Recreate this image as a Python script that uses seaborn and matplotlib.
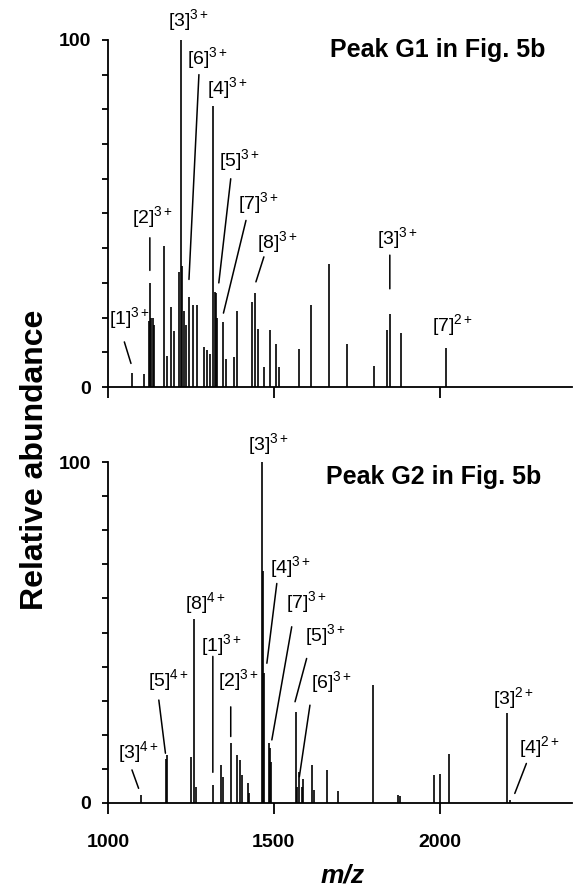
import matplotlib
matplotlib.use("Agg")
import pandas as pd
import seaborn as sns
import matplotlib.pyplot as plt

# peak lists (m/z, relative abundance)
g1_mz = [1071, 1108, 1122, 1126, 1130, 1134, 1138, 1170, 1178, 1190, 1200,
         1215, 1220, 1224, 1229, 1235, 1244, 1255, 1267, 1289, 1298, 1307,
         1318, 1322, 1326, 1330, 1348, 1355, 1379, 1389, 1433, 1443, 1451,
         1469, 1489, 1506, 1515, 1576, 1612, 1665, 1722, 1802, 1840, 1850,
         1883, 2018]
g1_int = [4, 3.7, 19, 30, 20, 20, 18, 40.5, 8.8, 23, 16,
          33, 100, 35, 22, 18, 26, 23.5, 23.5, 11.5, 10.6, 9.6,
          81, 27.5, 27, 20, 18.7, 8.2, 8.6, 22, 24.5, 27, 16.8,
          5.8, 16.3, 12.5, 5.8, 11, 23.5, 35.5, 12.5, 6.2, 16.3, 21,
          15.7, 11.2]

g2_mz = [1100, 1175, 1178, 1251, 1258, 1265, 1318, 1340, 1348, 1370, 1388,
         1397, 1404, 1421, 1426, 1464, 1466, 1469, 1484, 1487, 1490, 1566,
         1570, 1577, 1584, 1589, 1614, 1621, 1660, 1695, 1800, 1876, 1880,
         1984, 2001, 2029, 2204, 2212]
g2_int = [2.3, 13, 14, 13.6, 54, 4.8, 5.3, 11.1, 7.7, 17.5, 14,
          12.6, 8.2, 5.8, 2.8, 100, 68, 38, 17.5, 16, 12, 26.8,
          4.8, 9.2, 4.8, 6.9, 11.1, 3.8, 9.7, 3.6, 34.6, 2.3, 2,
          8.2, 8.5, 14.3, 26.3, 1]

titles = ["Peak G1 in Fig. 5b", "Peak G2 in Fig. 5b"]
x_ticks = [1000, 1500, 2000]
y_ticks = [0, 100]
y_minor = [10, 20, 30, 40, 50, 60, 70, 80, 90]

# ion labels: text, label position, leader line (start, end) or None
g1_labels = [
    ("[3]$^{3+}$", (1244, 105.8), None),
    ("[6]$^{3+}$", (1300, 94.8), ((1274, 90), (1244, 31))),
    ("[4]$^{3+}$", (1360, 86), None),
    ("[5]$^{3+}$", (1395, 65.4), ((1370, 60), (1334, 30))),
    ("[7]$^{3+}$", (1455, 53), ((1416, 48), (1348, 21.3))),
    ("[8]$^{3+}$", (1511, 41.9), ((1470, 37.5), (1446, 30.3))),
    ("[2]$^{3+}$", (1135, 49), ((1126, 43), (1126, 33.6))),
    ("[1]$^{3+}$", (1064, 19.8), ((1049, 13), (1069, 6.8))),
    ("[3]$^{3+}$", (1872, 42.8), ((1850, 38), (1850, 28.3))),
    ("[7]$^{2+}$", (2038, 17.9), None),
]
g2_labels = [
    ("[3]$^{3+}$", (1484, 105.4), None),
    ("[4]$^{3+}$", (1549, 69.3), ((1509, 64.4), (1479, 41))),
    ("[7]$^{3+}$", (1599, 59), ((1554, 51.7), (1494, 18.5))),
    ("[8]$^{4+}$", (1293, 58.6), None),
    ("[1]$^{3+}$", (1343, 46.3), ((1316, 43), (1316, 9))),
    ("[5]$^{4+}$", (1183, 36), ((1153, 30.2), (1173, 14.6))),
    ("[2]$^{3+}$", (1394, 36), ((1370, 28.2), (1370, 19.5))),
    ("[3]$^{4+}$", (1092, 15), ((1072, 9.7), (1092, 4.3))),
    ("[5]$^{3+}$", (1655, 49.3), ((1599, 42.4), (1564, 29.7))),
    ("[6]$^{3+}$", (1675, 35.6), ((1609, 28.7), (1577, 7.7))),
    ("[3]$^{2+}$", (2222, 30.7), None),
    ("[4]$^{2+}$", (2302, 16.5), ((2262, 11.6), (2227, 2.8))),
]

sns.set_theme(style="ticks")
plt.rcParams["font.family"] = ["Liberation Sans", "DejaVu Sans"]
plt.rcParams["mathtext.fontset"] = "custom"
plt.rcParams["mathtext.rm"] = "Liberation Sans"
plt.rcParams["mathtext.it"] = "Liberation Sans:italic"
plt.rcParams["mathtext.bf"] = "Liberation Sans:bold"
for key in ("text.color", "axes.labelcolor", "xtick.color", "ytick.color"):
    plt.rcParams[key] = "black"

fig = plt.figure(figsize=(5.75, 8.92), dpi=100)
ax1 = fig.add_axes([0.188, 0.5661, 0.807, 0.4339])
ax2 = fig.add_axes([0.188, 0.0998, 0.807, 0.418])

panels = [
    (ax1, pd.DataFrame({"mz": g1_mz, "intensity": g1_int}), g1_labels, titles[0], 111.5, (1993, 97)),
    (ax2, pd.DataFrame({"mz": g2_mz, "intensity": g2_int}), g2_labels, titles[1], 109.4, (1981, 95.7)),
]

for ax, df, labels, title, ytop, title_xy in panels:
    ax.vlines(df["mz"], 0, df["intensity"], color="black", lw=1.2)
    ax.set_xlim(1000, 2400)
    ax.set_ylim(0, ytop)
    sns.despine(ax=ax)
    ax.spines["left"].set_bounds(0, 100)
    for s in ("left", "bottom"):
        ax.spines[s].set_linewidth(1.3)
        ax.spines[s].set_color("black")
    ax.set_yticks(y_ticks)
    ax.set_yticks(y_minor, minor=True)
    ax.set_xticks(x_ticks)
    ax.tick_params(axis="y", which="both", direction="out", length=4, width=1.3,
                   color="black", left=True, labelsize=14, pad=8)
    ax.tick_params(axis="x", direction="out", length=8, width=1.3, color="black",
                   labelsize=14, pad=14)
    for t in ax.get_yticklabels() + ax.get_xticklabels():
        t.set_fontweight("bold")
    ax.text(title_xy[0], title_xy[1], title, fontsize=18, fontweight="bold",
            ha="center", va="center")
    for txt, pos, leader in labels:
        ax.text(pos[0], pos[1], txt, fontsize=14, ha="center", va="center")
        if leader is not None:
            ax.annotate("", xy=leader[1], xytext=leader[0],
                        arrowprops=dict(arrowstyle="-", color="black", lw=1.1,
                                        shrinkA=0, shrinkB=0))

ax1.tick_params(axis="x", labelbottom=False)

fig.text(0.061, 0.485, "Relative abundance", rotation=90, fontsize=23,
         fontweight="bold", ha="center", va="center")
fig.text(343 / 575, 0.018, "m/z", fontsize=19, fontweight="bold",
         fontstyle="italic", ha="center", va="center")

fig.savefig("out.png", dpi=100, facecolor="white")
